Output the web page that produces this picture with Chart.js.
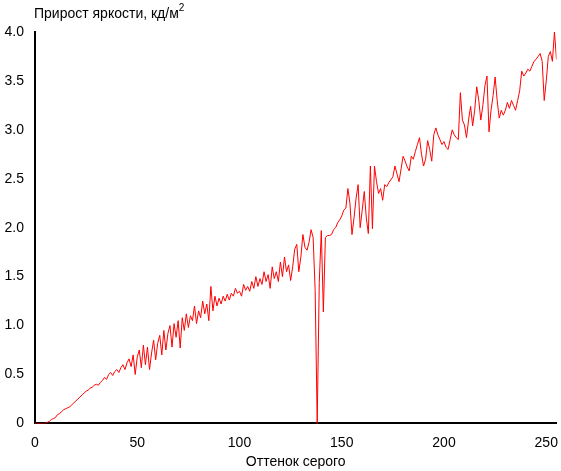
<!DOCTYPE html>
<html lang="ru">
<head>
<meta charset="UTF-8">
<script src="https://cdn.jsdelivr.net/npm/chart.js"></script>
<style>
  body { margin: 0; background: #fff; }
  #wrap { width: 561px; height: 471px; position: relative; }
</style>
</head>
<body>
<div id="wrap"><canvas id="c"></canvas></div>
<script>
const values = [
  0,0,0,0,0,0,0.01,0.02,0.04,0.05,
  0.06,0.09,0.1,0.12,0.14,0.15,0.16,0.17,0.19,0.21,
  0.23,0.25,0.27,0.29,0.31,0.33,0.34,0.36,0.37,0.39,
  0.40,0.39,0.42,0.44,0.47,0.45,0.5,0.52,0.49,0.53,
  0.55,0.52,0.57,0.6,0.55,0.62,0.66,0.58,0.7,0.5,
  0.68,0.75,0.57,0.8,0.6,0.78,0.55,0.72,0.85,0.65,
  0.82,0.9,0.7,0.95,0.75,0.92,1.0,0.78,1.02,0.88,
  1.05,0.77,1.08,0.95,1.12,0.98,1.1,1.05,1.2,1.02,
  1.15,1.08,1.25,1.12,1.22,1.05,1.4,1.15,1.3,1.2,
  1.28,1.22,1.3,1.25,1.32,1.26,1.33,1.3,1.38,1.33,
  1.35,1.3,1.42,1.36,1.4,1.35,1.45,1.38,1.5,1.4,
  1.48,1.42,1.55,1.45,1.52,1.38,1.6,1.48,1.55,1.45,
  1.65,1.5,1.7,1.55,1.62,1.46,1.6,1.78,1.83,1.55,
  1.7,1.93,1.8,1.77,1.85,1.98,1.9,1.36,0,1.44,
  1.97,1.14,1.9,1.92,1.92,1.93,1.98,2.0,2.05,2.08,
  2.12,2.18,2.2,2.4,2.25,1.93,2.1,2.3,2.44,2.0,
  2.18,2.37,2.1,1.94,2.63,1.99,2.63,2.47,2.35,2.4,
  2.28,2.44,2.42,2.46,2.49,2.52,2.63,2.55,2.47,2.6,
  2.73,2.68,2.62,2.58,2.73,2.7,2.78,2.85,2.92,2.75,
  2.63,2.7,2.89,2.8,2.68,2.95,3.02,2.95,2.9,2.85,
  2.88,2.82,2.8,2.9,3.0,2.95,2.92,2.9,3.38,3.1,
  3.05,2.92,3.1,3.24,3.04,3.2,3.44,3.3,3.1,3.25,
  3.45,3.55,2.98,3.2,3.35,3.54,3.3,3.12,3.2,3.15,
  3.2,3.28,3.22,3.3,3.25,3.2,3.3,3.4,3.6,3.55,
  3.58,3.62,3.6,3.65,3.7,3.72,3.75,3.78,3.7,3.3,
  3.5,3.75,3.8,3.7,4.0,3.72
];
const labels = values.map((v, i) => i);
const xTicks = [0, 50, 100, 150, 200, 250];
const yTicks = [0, 0.5, 1, 1.5, 2, 2.5, 3, 3.5, 4];

new Chart(document.getElementById('c'), {
  type: 'line',
  data: {
    labels: labels,
    datasets: [{
      data: values.map((v, i) => ({ x: i, y: v })),
      borderColor: '#ff0000',
      borderWidth: 1,
      pointRadius: 0,
      tension: 0
    }]
  },
  options: {
    responsive: true,
    maintainAspectRatio: false,
    animation: false,
    layout: { padding: { top: 32, right: 3 } },
    plugins: { legend: { display: false }, tooltip: { enabled: false } },
    scales: {
      x: {
        type: 'linear', min: 0, max: 255,
        afterBuildTicks: s => { s.ticks = xTicks.map(v => ({ value: v })); },
        grid: { display: false, drawTicks: true },
        border: { color: '#000', width: 2 },
        ticks: { color: '#000', font: { family: 'Arial, Liberation Sans', size: 14 }, maxRotation: 0, autoSkip: false },
        title: { display: true, text: 'Оттенок серого', color: '#000', font: { family: 'Arial, Liberation Sans', size: 14 }, padding: 0 }
      },
      y: {
        min: 0, max: 4,
        afterBuildTicks: s => { s.ticks = yTicks.map(v => ({ value: v })); },
        grid: { display: false },
        border: { color: '#000', width: 2 },
        ticks: { color: '#000', font: { family: 'Arial, Liberation Sans', size: 14 }, autoSkip: false },
        afterFit: s => { s.width = 35; }
      }
    }
  },
  plugins: [{
    id: 'ttl',
    afterDraw(chart) {
      const ctx = chart.ctx;
      ctx.save();
      ctx.fillStyle = '#000';
      ctx.font = '14px Arial, Liberation Sans';
      ctx.textBaseline = 'alphabetic';
      const t = 'Прирост яркости, кд/м';
      ctx.fillText(t, 34, 18);
      const w = ctx.measureText(t).width;
      ctx.font = '10px Arial, Liberation Sans';
      ctx.fillText('2', 34 + w, 11);
      ctx.restore();
    }
  }]
});
</script>
</body>
</html>
